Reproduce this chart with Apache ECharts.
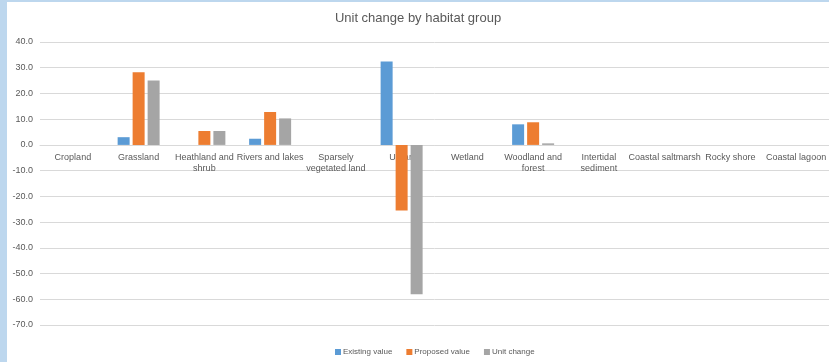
<!DOCTYPE html>
<html>
<head>
<meta charset="utf-8">
<script src="https://cdn.jsdelivr.net/npm/echarts@6/dist/echarts.min.js"></script>
<style>
  html, body { margin: 0; padding: 0; background: #bdd7ee; }
  #wrap { position: absolute; left: 0; top: 0; width: 829px; height: 362px; box-sizing: border-box;
          border-left: 7px solid #bdd7ee; border-top: 2px solid #bdd7ee; background: #fff; }
  #chart { width: 822px; height: 360px; }
</style>
</head>
<body>
<div id="wrap"><div id="chart"></div></div>
<script>
// habitat groups along the x axis
var categories = ['Cropland', 'Grassland', 'Heathland and\nshrub', 'Rivers and lakes', 'Sparsely\nvegetated land',
  'Urban', 'Wetland', 'Woodland and\nforest', 'Intertidal\nsediment', 'Coastal saltmarsh', 'Rocky shore', 'Coastal lagoon'];

var existingValue = [0, 3.0, 0, 2.4, 0, 32.4, 0, 8.0, 0, 0, 0, 0];
var proposedValue = [0, 28.2, 5.4, 12.8, 0, -25.5, 0, 8.8, 0, 0, 0, 0];
var unitChange    = [0, 25.0, 5.4, 10.3, 0, -58.0, 0, 0.6, 0, 0, 0, 0];

var seriesNames = ['Existing value', 'Proposed value', 'Unit change'];
var colors = ['#5b9bd5', '#ed7d31', '#a5a5a5'];

var yMin = -70, yMax = 40;
var gridTop = 40, gridBottom = 37, chartH = 360;
var plotH = chartH - gridTop - gridBottom;
// push the category axis up to the zero line
var zeroOffset = -plotH * (0 - yMin) / (yMax - yMin);

var myChart = echarts.init(document.getElementById('chart'));

var txt = { color: '#595959', fontFamily: 'Liberation Sans', fontSize: 9 };

var option = {
  animation: false,
  color: colors,
  title: {
    text: 'Unit change by habitat group',
    left: 'center',
    top: 5,
    textStyle: { color: '#595959', fontFamily: 'Liberation Sans', fontSize: 13, fontWeight: 'normal' }
  },
  legend: {
    data: seriesNames,
    left: 323,
    bottom: 1,
    itemWidth: 6,
    itemHeight: 6,
    itemGap: 14,
    icon: 'rect',
    textStyle: { color: '#595959', fontFamily: 'Liberation Sans', fontSize: 8, padding: [0, 0, 0, -3] }
  },
  grid: { left: 33, right: -9, top: gridTop, bottom: gridBottom, containLabel: false },
  xAxis: {
    type: 'category',
    data: categories,
    position: 'bottom',
    offset: zeroOffset,
    axisLine: { onZero: false, lineStyle: { color: '#d9d9d9' } },
    axisTick: { show: false },
    axisLabel: Object.assign({ interval: 0, margin: 7, lineHeight: 11 }, txt)
  },
  yAxis: {
    type: 'value',
    min: yMin,
    max: yMax,
    interval: 10,
    axisLine: { show: false },
    axisTick: { show: false },
    splitLine: { lineStyle: { color: '#d9d9d9' } },
    axisLabel: Object.assign({ margin: 7, formatter: function (v) { return v.toFixed(1); } }, txt)
  },
  series: [
    { name: seriesNames[0], type: 'bar', data: existingValue, barWidth: 12, barGap: '25%' },
    { name: seriesNames[1], type: 'bar', data: proposedValue, barWidth: 12, barGap: '25%' },
    { name: seriesNames[2], type: 'bar', data: unitChange, barWidth: 12, barGap: '25%' }
  ]
};

myChart.setOption(option);
</script>
</body>
</html>
